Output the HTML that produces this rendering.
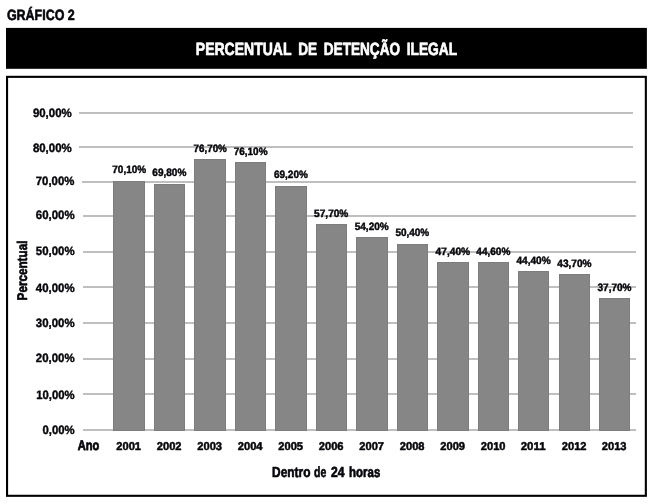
<!DOCTYPE html>
<html lang="pt"><head><meta charset="utf-8"><title>Gráfico 2 - Percentual de detenção ilegal</title>
<style>
html,body{margin:0;padding:0;background:#fff;}
body{width:650px;height:504px;overflow:hidden;}
svg{display:block;}
text{font-family:"Liberation Sans",sans-serif;font-weight:bold;text-rendering:geometricPrecision;}
.t{fill:#05050a;stroke:#05050a;stroke-linejoin:round;}
.w{fill:#fff;stroke:#fff;stroke-linejoin:round;}
</style></head><body>
<svg width="650" height="504" viewBox="0 0 650 504">
<rect x="0" y="0" width="650" height="504" fill="#fff"/>
<text class="t" x="6.90" y="19.60" font-size="14.8" stroke-width="0.6" textLength="67.90" lengthAdjust="spacingAndGlyphs">GRÁFICO 2</text>
<rect x="6" y="27.9" width="640.9" height="40.9" fill="#000"/>
<text class="w" y="55.10" font-size="17.7" stroke-width="0.7"><tspan x="195.85" textLength="95.35" lengthAdjust="spacingAndGlyphs">PERCENTUAL</tspan> <tspan x="298.15" textLength="18.95" lengthAdjust="spacingAndGlyphs">DE</tspan> <tspan x="323.75" textLength="76.35" lengthAdjust="spacingAndGlyphs">DETENÇÃO</tspan> <tspan x="406.65" textLength="50.55" lengthAdjust="spacingAndGlyphs">ILEGAL</tspan></text>
<rect x="7.05" y="76.85" width="638.8" height="418.95" fill="none" stroke="#000" stroke-width="2.1"/>
<rect x="79" y="112" width="554" height="2" fill="#bfbfbf"/>
<rect x="79" y="146" width="554" height="2" fill="#bfbfbf"/>
<rect x="82" y="181" width="554" height="2" fill="#bfbfbf"/>
<rect x="83" y="215" width="553" height="2" fill="#bfbfbf"/>
<rect x="83" y="251" width="553" height="2" fill="#bfbfbf"/>
<rect x="83" y="286" width="553" height="2" fill="#bfbfbf"/>
<rect x="83" y="322" width="553" height="2" fill="#bfbfbf"/>
<rect x="83" y="358" width="553" height="2" fill="#bfbfbf"/>
<rect x="83" y="393" width="553" height="2" fill="#bfbfbf"/>
<rect x="83" y="429" width="553" height="2" fill="#bfbfbf"/>
<rect x="113.5" y="181.5" width="31" height="249" fill="#868686" stroke="#7d7d7d" stroke-width="1"/>
<rect x="154.5" y="184.5" width="30" height="246" fill="#868686" stroke="#7d7d7d" stroke-width="1"/>
<rect x="194.5" y="159.5" width="31" height="271" fill="#868686" stroke="#7d7d7d" stroke-width="1"/>
<rect x="235.5" y="162.5" width="30" height="268" fill="#868686" stroke="#7d7d7d" stroke-width="1"/>
<rect x="275.5" y="186.5" width="31" height="244" fill="#868686" stroke="#7d7d7d" stroke-width="1"/>
<rect x="316.5" y="224.5" width="30" height="206" fill="#868686" stroke="#7d7d7d" stroke-width="1"/>
<rect x="356.5" y="237.5" width="31" height="193" fill="#868686" stroke="#7d7d7d" stroke-width="1"/>
<rect x="397.5" y="244.5" width="30" height="186" fill="#868686" stroke="#7d7d7d" stroke-width="1"/>
<rect x="437.5" y="262.5" width="31" height="168" fill="#868686" stroke="#7d7d7d" stroke-width="1"/>
<rect x="478.5" y="262.5" width="30" height="168" fill="#868686" stroke="#7d7d7d" stroke-width="1"/>
<rect x="518.5" y="271.5" width="30" height="159" fill="#868686" stroke="#7d7d7d" stroke-width="1"/>
<rect x="559.5" y="274.5" width="30" height="156" fill="#868686" stroke="#7d7d7d" stroke-width="1"/>
<rect x="599.5" y="298.5" width="30" height="132" fill="#868686" stroke="#7d7d7d" stroke-width="1"/>
<text class="t" x="32.90" y="116.75" font-size="12.1" stroke-width="0.4" textLength="38.80" lengthAdjust="spacingAndGlyphs">90,00%</text>
<text class="t" x="32.90" y="151.65" font-size="12.1" stroke-width="0.4" textLength="38.80" lengthAdjust="spacingAndGlyphs">80,00%</text>
<text class="t" x="35.80" y="185.45" font-size="12.1" stroke-width="0.4" textLength="38.60" lengthAdjust="spacingAndGlyphs">70,00%</text>
<text class="t" x="35.80" y="219.45" font-size="12.1" stroke-width="0.4" textLength="38.80" lengthAdjust="spacingAndGlyphs">60,00%</text>
<text class="t" x="35.80" y="255.45" font-size="12.1" stroke-width="0.4" textLength="38.80" lengthAdjust="spacingAndGlyphs">50,00%</text>
<text class="t" x="35.80" y="291.55" font-size="12.1" stroke-width="0.4" textLength="38.80" lengthAdjust="spacingAndGlyphs">40,00%</text>
<text class="t" x="35.80" y="326.55" font-size="12.1" stroke-width="0.4" textLength="38.80" lengthAdjust="spacingAndGlyphs">30,00%</text>
<text class="t" x="35.80" y="362.25" font-size="12.1" stroke-width="0.4" textLength="38.80" lengthAdjust="spacingAndGlyphs">20,00%</text>
<text class="t" x="36.20" y="398.65" font-size="12.1" stroke-width="0.4" textLength="38.40" lengthAdjust="spacingAndGlyphs">10,00%</text>
<text class="t" x="42.50" y="433.50" font-size="12.1" stroke-width="0.4" textLength="32.10" lengthAdjust="spacingAndGlyphs">0,00%</text>
<text class="t" x="112.30" y="172.60" font-size="10.7" stroke-width="0.45" textLength="33.85" lengthAdjust="spacingAndGlyphs">70,10%</text>
<text class="t" x="152.30" y="175.50" font-size="10.7" stroke-width="0.45" textLength="34.05" lengthAdjust="spacingAndGlyphs">69,80%</text>
<text class="t" x="193.50" y="151.70" font-size="10.7" stroke-width="0.45" textLength="33.35" lengthAdjust="spacingAndGlyphs">76,70%</text>
<text class="t" x="233.70" y="154.60" font-size="10.7" stroke-width="0.45" textLength="33.85" lengthAdjust="spacingAndGlyphs">76,10%</text>
<text class="t" x="274.00" y="178.10" font-size="10.7" stroke-width="0.45" textLength="33.85" lengthAdjust="spacingAndGlyphs">69,20%</text>
<text class="t" x="314.10" y="216.50" font-size="10.7" stroke-width="0.45" textLength="34.25" lengthAdjust="spacingAndGlyphs">57,70%</text>
<text class="t" x="354.70" y="229.80" font-size="10.7" stroke-width="0.45" textLength="34.05" lengthAdjust="spacingAndGlyphs">54,20%</text>
<text class="t" x="395.40" y="235.70" font-size="10.7" stroke-width="0.45" textLength="33.85" lengthAdjust="spacingAndGlyphs">50,40%</text>
<text class="t" x="435.60" y="254.80" font-size="10.7" stroke-width="0.45" textLength="34.55" lengthAdjust="spacingAndGlyphs">47,40%</text>
<text class="t" x="476.30" y="254.80" font-size="10.7" stroke-width="0.45" textLength="34.05" lengthAdjust="spacingAndGlyphs">44,60%</text>
<text class="t" x="516.40" y="263.90" font-size="10.7" stroke-width="0.45" textLength="34.35" lengthAdjust="spacingAndGlyphs">44,40%</text>
<text class="t" x="557.30" y="266.90" font-size="10.7" stroke-width="0.45" textLength="34.25" lengthAdjust="spacingAndGlyphs">43,70%</text>
<text class="t" x="597.50" y="290.90" font-size="10.7" stroke-width="0.45" textLength="34.05" lengthAdjust="spacingAndGlyphs">37,70%</text>
<text class="t" x="77.70" y="450.35" font-size="13.9" stroke-width="0.75" textLength="21.60" lengthAdjust="spacingAndGlyphs">Ano</text>
<text class="t" x="116.25" y="450.45" font-size="11.3" stroke-width="0.5" textLength="24.80" lengthAdjust="spacingAndGlyphs">2001</text>
<text class="t" x="156.75" y="450.45" font-size="11.3" stroke-width="0.5" textLength="24.80" lengthAdjust="spacingAndGlyphs">2002</text>
<text class="t" x="197.25" y="450.45" font-size="11.3" stroke-width="0.5" textLength="24.80" lengthAdjust="spacingAndGlyphs">2003</text>
<text class="t" x="237.75" y="450.45" font-size="11.3" stroke-width="0.5" textLength="24.80" lengthAdjust="spacingAndGlyphs">2004</text>
<text class="t" x="278.25" y="450.45" font-size="11.3" stroke-width="0.5" textLength="24.80" lengthAdjust="spacingAndGlyphs">2005</text>
<text class="t" x="318.75" y="450.45" font-size="11.3" stroke-width="0.5" textLength="24.80" lengthAdjust="spacingAndGlyphs">2006</text>
<text class="t" x="359.25" y="450.45" font-size="11.3" stroke-width="0.5" textLength="24.80" lengthAdjust="spacingAndGlyphs">2007</text>
<text class="t" x="399.75" y="450.45" font-size="11.3" stroke-width="0.5" textLength="24.80" lengthAdjust="spacingAndGlyphs">2008</text>
<text class="t" x="440.25" y="450.45" font-size="11.3" stroke-width="0.5" textLength="24.80" lengthAdjust="spacingAndGlyphs">2009</text>
<text class="t" x="480.75" y="450.45" font-size="11.3" stroke-width="0.5" textLength="24.80" lengthAdjust="spacingAndGlyphs">2010</text>
<text class="t" x="520.75" y="450.45" font-size="11.3" stroke-width="0.5" textLength="24.80" lengthAdjust="spacingAndGlyphs">2011</text>
<text class="t" x="561.75" y="450.45" font-size="11.3" stroke-width="0.5" textLength="24.80" lengthAdjust="spacingAndGlyphs">2012</text>
<text class="t" x="601.75" y="450.45" font-size="11.3" stroke-width="0.5" textLength="24.80" lengthAdjust="spacingAndGlyphs">2013</text>
<text class="t" y="477.30" font-size="14.6" stroke-width="0.65"><tspan x="272.10" textLength="38.40" lengthAdjust="spacingAndGlyphs">Dentro</tspan> <tspan x="314.10" textLength="12.20" lengthAdjust="spacingAndGlyphs">de</tspan> <tspan x="331.10" textLength="13.50" lengthAdjust="spacingAndGlyphs">24</tspan> <tspan x="349.10" textLength="31.20" lengthAdjust="spacingAndGlyphs">horas</tspan></text>
<text class="t" transform="translate(26.55,300.4) rotate(-90)" x="0" y="0" font-size="14" stroke-width="0.65" textLength="59.8" lengthAdjust="spacingAndGlyphs">Percentual</text>
</svg>
</body></html>
